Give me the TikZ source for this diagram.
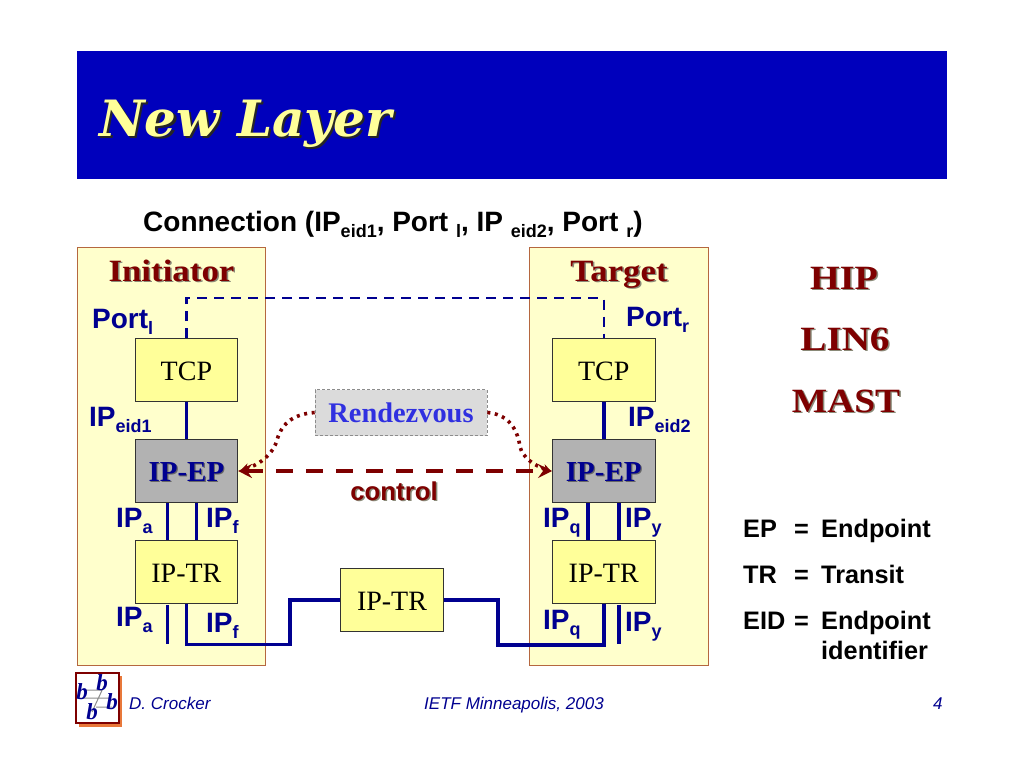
\documentclass[tikz,border=0pt]{standalone}
\usepackage{fontspec}
\setmainfont{Liberation Serif}
\setsansfont{Liberation Sans}
\newfontfamily\titlefont{DejaVu Serif}
\usetikzlibrary{arrows.meta,calc}
\definecolor{band}{HTML}{0000BC}
\definecolor{navyw}{HTML}{000090}
\definecolor{maroonw}{HTML}{7E0000}
\definecolor{panelf}{HTML}{FFFFCC}
\definecolor{paneld}{HTML}{B5673F}
\definecolor{boxf}{HTML}{FFFF99}
\definecolor{titley}{HTML}{FFFF99}
\definecolor{gshadow}{HTML}{8A8A78}
\definecolor{rdvblue}{HTML}{3030E0}
\definecolor{logoor}{HTML}{E8783A}
\newcommand{\shtext}[4][1.5pt]{\makebox[0pt][l]{\hspace{#1}\raisebox{-#1}{\textcolor{#3}{#4}}}\textcolor{#2}{#4}}
\newcommand{\lab}[2]{\fontsize{28}{28}\selectfont\sffamily\bfseries #1\raisebox{-6pt}{\fontsize{18}{18}\selectfont #2}}
\newcommand{\wide}[2]{\shtext{maroonw}{gshadow}{\scalebox{#1}[1]{#2}}}
\tikzset{
 panel/.style={draw=paneld,fill=panelf,line width=0.9pt},
 boxn/.style={draw=black!80,fill=boxf,line width=0.8pt,minimum width=102.5pt,minimum height=63pt,inner sep=0pt,font=\fontsize{28}{28}\selectfont,text height=21.5pt,text depth=0pt},
 epn/.style={boxn,fill=black!30},
 wire/.style={draw=navyw,line width=3.6pt,line join=miter},
 dashw/.style={draw=navyw,line width=2.2pt,dash pattern=on 10pt off 7pt},
 lbl/.style={anchor=base west,inner sep=0pt,text=navyw},
 head/.style={anchor=base,inner sep=0pt},
 legend/.style={anchor=base west,inner sep=0pt,font=\fontsize{25.3}{25.3}\selectfont\sffamily\bfseries},
 foot/.style={anchor=base west,inner sep=0pt,text=navyw,font=\fontsize{17}{17}\selectfont\sffamily\itshape},
 logob/.style={inner sep=0pt,text=navyw,font=\fontsize{23}{23}\selectfont\bfseries\itshape},
 ctrl/.style={draw=maroonw,line width=4pt,dash pattern=on 17pt off 13pt,{Stealth[length=14pt,width=14pt,inset=5pt]}-{Stealth[length=14pt,width=14pt,inset=5pt]}},
 dots/.style={draw=maroonw,line width=3.6pt,dash pattern=on 3pt off 4.6pt,-{Stealth[length=8pt,width=9pt]}},
}
\begin{document}
\begin{tikzpicture}[x=1pt,y=-1pt]
\useasboundingbox (0,0) rectangle (1024,768);
\fill[white] (0,0) rectangle (1024,768);
\node[fill=band,minimum width=870pt,minimum height=128pt,inner sep=0pt,anchor=north west] (titleband) at (77,51) {};
\node[anchor=base west,inner sep=0pt,font=\fontsize{50}{50}\selectfont\titlefont\bfseries\itshape] (title) at (99,136) {\shtext[2.2pt]{titley}{black!85}{New Layer}};
\node[anchor=base west,inner sep=0pt,font=\fontsize{28}{28}\selectfont\sffamily\bfseries] (conn) at (143,231) {Connection (IP\raisebox{-6pt}{\fontsize{18}{18}\selectfont eid1}, Port \raisebox{-6pt}{\fontsize{18}{18}\selectfont l}, IP \raisebox{-6pt}{\fontsize{18}{18}\selectfont eid2}, Port \raisebox{-6pt}{\fontsize{18}{18}\selectfont r})};
% panels
\node[panel,minimum width=187.5pt,minimum height=418pt,inner sep=0pt,anchor=north west] (panelL) at (77,247) {};
\node[panel,minimum width=179pt,minimum height=418pt,inner sep=0pt,anchor=north west] (panelR) at (529,247) {};
\node[head,font=\fontsize{31}{31}\selectfont\bfseries] (init) at (171.5,281) {\wide{1.125}{Initiator}};
\node[head,font=\fontsize{31}{31}\selectfont\bfseries] (targ) at (619,281) {\wide{1.12}{Target}};
% boxes
\node[boxn] (tcpL) at (186.4,370) {TCP};
\node[epn] (epL) at (186.4,471) {\fontsize{29}{29}\selectfont\bfseries\shtext[1.2pt]{navyw}{black!60}{IP-EP}};
\node[boxn] (trL) at (186.4,572) {IP-TR};
\node[boxn] (tcpR) at (603.7,370) {TCP};
\node[epn] (epR) at (603.7,471) {\fontsize{29}{29}\selectfont\bfseries\shtext[1.2pt]{navyw}{black!60}{IP-EP}};
\node[boxn] (trR) at (603.7,572) {IP-TR};
\node[boxn] (trM) at (392,600) {IP-TR};
\node[draw=black!45,densely dashed,line width=0.7pt,fill=black!14,minimum width=172pt,minimum height=46pt,inner sep=0pt,text=rdvblue,font=\fontsize{28.4}{28.4}\selectfont\bfseries,text height=20pt,text depth=0pt] (rdv) at (401,412.5) {Rendezvous};
% free ends
\coordinate (endLa) at (167.4,644);
\coordinate (endRy) at (619.2,644);
% wires
\draw[dashw] (tcpL.north) -- (186.4,298) -- (603.7,298) -- (tcpR.north);
\draw[wire] (tcpL.south) -- (epL.north);
\draw[wire] (tcpR.south) -- (epR.north);
\draw[wire] ($(epL.south)+(-19,0)$) -- ($(trL.north)+(-19,0)$);
\draw[wire] ($(epL.south)+(10,0)$) -- ($(trL.north)+(10,0)$);
\draw[wire] ($(epR.south)+(-15.5,0)$) -- ($(trR.north)+(-15.5,0)$);
\draw[wire] ($(epR.south)+(15.5,0)$) -- ($(trR.north)+(15.5,0)$);
\draw[wire] ($(trL.south)+(-19,1)$) -- (endLa);
\draw[wire] ($(trR.south)+(15.5,1)$) -- (endRy);
\draw[wire] (trL.south) -- (186.4,644.5) -- (290,644.5) -- (290,600) -- (trM.west);
\draw[wire] (trM.east) -- (498,600) -- (498,645) -- (603.7,645) -- (trR.south);
% control
\draw[ctrl] (epL.east) -- (epR.west);
\draw[dots] (rdv.west) .. controls (295,414) and (282,422) .. (277,440) .. controls (274,452) and (262,464) .. (241,470);
\draw[dots] (rdv.east) .. controls (505,414) and (517,425) .. (520,447) .. controls (523,458) and (535,466) .. (551,471);
\node[head,font=\fontsize{25.8}{25.8}\selectfont\sffamily\bfseries] (ctl) at (394,500) {\shtext{maroonw}{gshadow}{control}};
% labels
\node[lbl] (portl) at (92,328) {\lab{Port}{l}};
\node[lbl] (portr) at (626,326) {\lab{Port}{r}};
\node[lbl] (eid1) at (89,426) {\lab{IP}{eid1}};
\node[lbl] (eid2) at (628,426) {\lab{IP}{eid2}};
\node[lbl] (ipa1) at (116,527) {\lab{IP}{a}};
\node[lbl] (ipf1) at (206,527) {\lab{IP}{f}};
\node[lbl] (ipa2) at (116,626) {\lab{IP}{a}};
\node[lbl] (ipf2) at (206,632) {\lab{IP}{f}};
\node[lbl] (ipq1) at (543,527) {\lab{IP}{q}};
\node[lbl] (ipy1) at (625,527) {\lab{IP}{y}};
\node[lbl] (ipq2) at (543,629) {\lab{IP}{q}};
\node[lbl] (ipy2) at (625,631) {\lab{IP}{y}};
% right column
\node[head,font=\fontsize{34}{34}\selectfont\bfseries] (hip) at (844,289) {\wide{1.12}{HIP}};
\node[head,font=\fontsize{34}{34}\selectfont\bfseries] (lin) at (845,350) {\wide{1.15}{LIN6}};
\node[head,font=\fontsize{34}{34}\selectfont\bfseries] (mast) at (846,412) {\wide{1.1}{MAST}};
\node[legend] (l1a) at (743,537) {EP};
\node[legend] (l1b) at (794,537) {=};
\node[legend] (l1c) at (821,537) {Endpoint};
\node[legend] (l2a) at (743,583) {TR};
\node[legend] (l2b) at (794,583) {=};
\node[legend] (l2c) at (821,583) {Transit};
\node[legend] (l3a) at (743,629) {EID};
\node[legend] (l3b) at (794,629) {=};
\node[legend] (l3c) at (821,629) {Endpoint};
\node[legend] (l4c) at (821,659) {identifier};
% logo
\fill[logoor] (79,676) rectangle (122,727);
\draw[draw=maroonw,fill=white,line width=1.2pt] (76,673) rectangle (119,723);
\draw[draw=black!45,line width=1pt] (84,690) -- (102,690) (80,698) -- (110,698) (96,707) -- (112,707) (104,686) -- (92,712);
\node[logob] (b1) at (82,692) {b};
\node[logob] (b2) at (102,683) {b};
\node[logob] (b3) at (112,702) {b};
\node[logob] (b4) at (92,712) {b};
% footer
\node[foot] (fa) at (129,709) {D. Crocker};
\node[foot] (fb) at (424,709) {IETF Minneapolis, 2003};
\node[foot] (fc) at (933,709) {4};
\end{tikzpicture}
\end{document}
